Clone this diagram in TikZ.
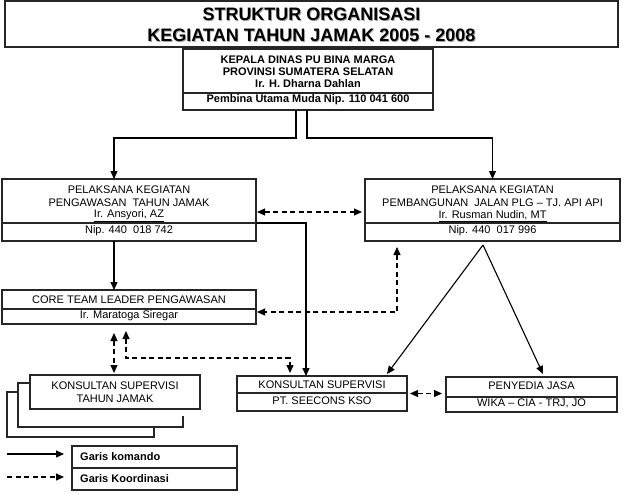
\documentclass[tikz,border=0pt]{standalone}
\usepackage{fontspec}
\setmainfont{Liberation Sans}
\usetikzlibrary{arrows.meta,calc}
\begin{document}
\begin{tikzpicture}[x=1pt,y=-1pt,
  boxline/.style={line width=1.1pt,draw=black!85},
  box/.style={boxline,rectangle,inner sep=0pt,outer sep=0pt},
  txt/.style={inner sep=0pt,font=\fontsize{11}{13}\selectfont},
  btxt/.style={inner sep=0pt,font=\fontsize{11}{12}\selectfont\bfseries},
  ttl/.style={inner sep=0pt,font=\fontsize{18}{21}\selectfont\bfseries},
  cmd/.style={line width=1.1pt,-{Triangle[length=8pt,width=7pt]}},
  crd/.style={line width=1.1pt,dash pattern=on 5pt off 3.5pt,{Triangle[length=8pt,width=7pt]}-{Triangle[length=8pt,width=7pt]}},
  crdone/.style={line width=1.1pt,dash pattern=on 5pt off 3.5pt,-{Triangle[length=8pt,width=7pt]}}
]
\useasboundingbox (0,0) rectangle (623,493);

% title
\node[box,minimum width=613pt,minimum height=46pt] (title) at (311.5,24) {};
\node[ttl,text=black!35] (ttl1s) at (312.3,14.9) {STRUKTUR ORGANISASI};
\node[ttl,text=black!35] (ttl2s) at (312.3,35.9) {KEGIATAN TAHUN JAMAK 2005 - 2008};
\node[ttl] (ttl1) at (311.5,14) {STRUKTUR ORGANISASI};
\node[ttl] (ttl2) at (311.5,35) {KEGIATAN TAHUN JAMAK 2005 - 2008};

% kepala
\node[box,minimum width=250pt,minimum height=61pt] (kep) at (308,79.5) {};
\draw[boxline] ([yshift=-13.5pt]kep.west) -- ([yshift=-13.5pt]kep.east);
\node[btxt] (k1) at (308,60) {KEPALA DINAS PU BINA MARGA};
\node[btxt] (k2) at (308,72) {PROVINSI SUMATERA SELATAN};
\node[btxt] (k3) at (308,84) {Ir. H. Dharna Dahlan};
\node[btxt] (k4) at (308,100) {Pembina Utama Muda Nip. 110 041 600};

% pelaksana kiri
\node[box,minimum width=254pt,minimum height=62pt] (pl) at (129,210) {};
\draw[boxline] ([yshift=-13pt]pl.west) -- ([yshift=-13pt]pl.east);
\node[txt] (pl1) at (129,190) {PELAKSANA KEGIATAN};
\node[txt] (pl2) at (129,203) {PENGAWASAN\ \ TAHUN JAMAK};
\node[txt] (pl3) at (129,216) {\underline{Ir. Ansyori, AZ}};
\node[txt] (pl4) at (129,230.5) {Nip. 440\ \ 018 742};

% pelaksana kanan
\node[box,minimum width=255pt,minimum height=62pt] (pr) at (492.5,210) {};
\draw[boxline] ([yshift=-13pt]pr.west) -- ([yshift=-13pt]pr.east);
\node[txt] (pr1) at (492.5,190) {PELAKSANA KEGIATAN};
\node[txt] (pr2) at (492.5,203) {PEMBANGUNAN\ \ JALAN PLG -- TJ. API API};
\node[txt] (pr3) at (492.5,216) {\underline{Ir. Rusman Nudin, MT}};
\node[txt] (pr4) at (492.5,230.5) {Nip. 440\ \ 017 996};

% core team
\node[box,minimum width=254pt,minimum height=34pt] (core) at (129,307) {};
\draw[boxline] ([yshift=-2pt]core.west) -- ([yshift=-2pt]core.east);
\node[txt] (c1) at (129,300) {CORE TEAM LEADER PENGAWASAN};
\node[txt] (c2) at (129,316) {Ir. Maratoga Siregar};

% konsultan supervisi tahun jamak (stacked)
\draw[boxline] (30,383) -- (18,383) -- (18,427) -- (183,427) -- (183,416);
\draw[boxline] (18,392) -- (7,392) -- (7,437) -- (154,437) -- (154,427);
\node[box,fill=white,minimum width=170pt,minimum height=34pt] (ks) at (115,392) {};
\node[txt] (ks1) at (115,386) {KONSULTAN SUPERVISI};
\node[txt] (ks2) at (115,399) {TAHUN JAMAK};

% konsultan supervisi seecons
\node[box,minimum width=170pt,minimum height=35pt] (sc) at (322,393.5) {};
\draw[boxline] ([yshift=0.5pt]sc.west) -- ([yshift=0.5pt]sc.east);
\node[txt] (sc1) at (322,385) {KONSULTAN SUPERVISI};
\node[txt] (sc2) at (322,401) {PT. SEECONS KSO};

% penyedia jasa
\node[box,minimum width=171pt,minimum height=35pt] (pen) at (531.5,394.5) {};
\draw[boxline] ([yshift=-2.5pt]pen.west) -- ([yshift=-2.5pt]pen.east);
\node[txt] (pe1) at (531.5,386) {PENYEDIA JASA};
\node[txt] (pe2) at (531.5,403) {WIKA -- CIA - TRJ, JO};

% garis komando
\draw[cmd] ([xshift=-12pt]kep.south) -- ++(0,28) -| ([xshift=-15pt]pl.north);
\draw[cmd] ([xshift=-1pt]kep.south) -- ++(0,28) -| (pr.north);
\draw[cmd] ([xshift=-15pt]pl.south) -- ([xshift=-15pt]core.north);
\draw[cmd] ([yshift=-13pt]pl.east) -| ([xshift=-16pt]sc.north);
\draw[cmd] ([xshift=-9.5pt,yshift=-4pt]pr.south) -- ([xshift=-20pt,yshift=2pt]sc.north east);
\draw[cmd] ([xshift=-9.5pt,yshift=-4pt]pr.south) -- ([xshift=11.5pt,yshift=3pt]pen.north);

% garis koordinasi
\draw[crd] ([yshift=-2pt,xshift=1pt]pl.east) -- ([yshift=-2pt,xshift=-3pt]pr.west);
\draw[crd] ([xshift=-95.5pt,yshift=-6pt]pr.south) |- ([yshift=-5pt,xshift=1pt]core.east);
\draw[crd] ([xshift=-15pt,yshift=-9pt]core.south) -- ([xshift=-1pt,yshift=2pt]ks.north);
\draw[crd] ([xshift=-3pt,yshift=-7pt]core.south) -- ++(0,27) -| ([xshift=-32pt,yshift=3pt]sc.north);
\draw[crd] ([xshift=3pt]sc.east) -- ([xshift=-4pt]sc.east -| pen.west);

% legenda
\node[box,minimum width=165pt,minimum height=22pt] (leg1) at (154.5,457) {};
\node[box,minimum width=165pt,minimum height=22pt] (leg2) at (154.5,479) {};
\node[btxt,anchor=west] (lt1) at (80,457) {Garis komando};
\node[btxt,anchor=west] (lt2) at (80,479) {Garis Koordinasi};
\coordinate (la1) at (7,454);
\coordinate (la2) at (64,454);
\coordinate (lb1) at (7,477);
\coordinate (lb2) at (64,477);
\draw[cmd] (la1) -- (la2);
\draw[crdone] (lb1) -- (lb2);
\end{tikzpicture}
\end{document}
